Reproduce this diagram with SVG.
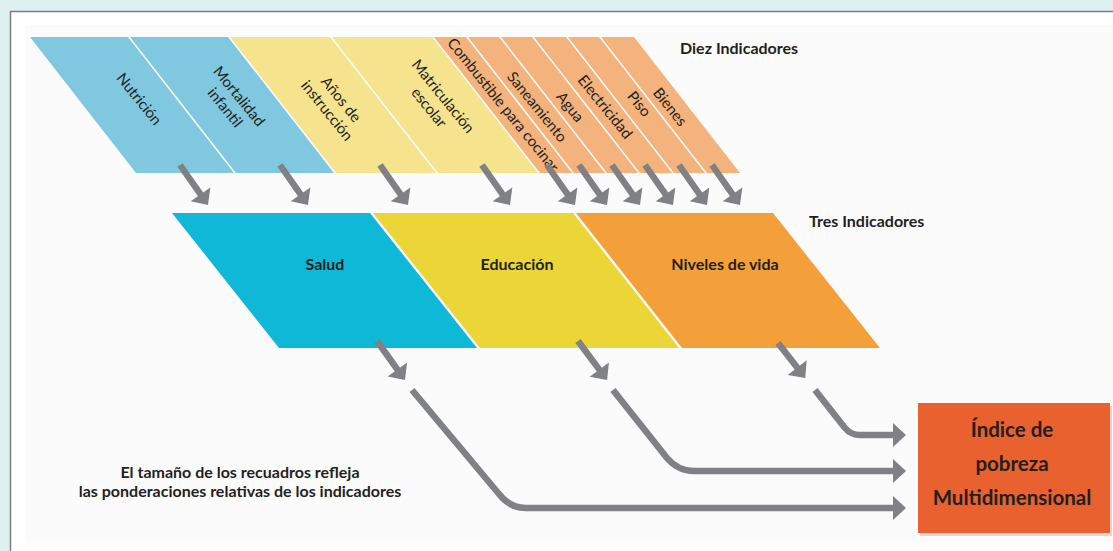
<svg xmlns="http://www.w3.org/2000/svg" width="1113" height="551" viewBox="0 0 1113 551">
  <style>
    .lbl { font-family: Lato, "Open Sans", sans-serif; font-size: 15px; fill: #231F20; text-anchor: middle; }
    .mid { font-family: Lato, "Open Sans", sans-serif; font-size: 16px; font-weight: 700; fill: #231F20; text-anchor: middle; }
    .hdr { font-family: Lato, "Open Sans", sans-serif; font-size: 16px; font-weight: 700; fill: #231F20; }
    .note { font-family: Lato, "Open Sans", sans-serif; font-size: 16px; font-weight: 700; fill: #231F20; text-anchor: middle; }
    .idx { font-family: Lato, "Open Sans", sans-serif; font-size: 20.5px; font-weight: 700; fill: #231F20; text-anchor: middle; }
    .blue { fill: #7FC8DF; }
    .yel { fill: #F5E38E; }
    .org { fill: #F4B27C; }
    .arr { fill: none; stroke: #7F8185; stroke-width: 6.5; stroke-linejoin: round; marker-end: url(#head); }
  </style>
  <defs>
    <marker id="head" markerUnits="userSpaceOnUse" viewBox="-16 -16 20 32" markerWidth="20" markerHeight="32" refX="-8" refY="0" orient="auto">
      <path d="M0,0 L-13,-12 L-13,12 Z" fill="#7F8185"/>
    </marker>
  </defs>

  <!-- frame -->
  <rect x="0" y="0" width="1113" height="551" fill="#DEF0F0"/>
  <rect x="11" y="11" width="1102" height="540" fill="#FFFFFF"/>
  <rect x="25" y="25" width="1088" height="517" fill="#FBFBFB"/>
  <line x1="10" y1="11.5" x2="1113" y2="11.5" stroke="#7A7F80" stroke-width="1.5"/>
  <line x1="10.5" y1="11" x2="10.5" y2="551" stroke="#7A7F80" stroke-width="1.5"/>

  <!-- ten indicators -->
  <g id="nutricion">
    <polygon class="blue" points="30,37 128,37 234,173 136,173"/>
    <text class="lbl" transform="translate(139,99) rotate(51)" y="5">Nutrición</text>
  </g>
  <g id="mortalidad">
    <polygon class="blue" points="130,37 228,37 334,173 236,173"/>
    <text class="lbl" transform="translate(232,102) rotate(51)"><tspan x="0" y="-4">Mortalidad</tspan><tspan x="0" y="14">infantil</tspan></text>
  </g>
  <g id="anos">
    <polygon class="yel" points="230,37 330,37 436,173 336,173"/>
    <text class="lbl" transform="translate(334,105) rotate(51)"><tspan x="0" y="-4">Años de</tspan><tspan x="0" y="14">instrucción</tspan></text>
  </g>
  <g id="matriculacion">
    <polygon class="yel" points="332,37 432,37 538,173 438,173"/>
    <text class="lbl" transform="translate(436,102) rotate(51)"><tspan x="0" y="-4">Matriculación</tspan><tspan x="0" y="14">escolar</tspan></text>
  </g>
  <g id="combustible">
    <polygon class="org" points="434,37 466,37 572,173 540,173"/>
    <text class="lbl" transform="translate(503,105) rotate(51)" y="5">Combustible para cocinar</text>
  </g>
  <g id="saneamiento">
    <polygon class="org" points="468,37 499,37 605,173 574,173"/>
    <text class="lbl" transform="translate(537,107) rotate(51)" y="5">Saneamiento</text>
  </g>
  <g id="agua">
    <polygon class="org" points="501,37 532,37 638,173 607,173"/>
    <text class="lbl" transform="translate(570,107) rotate(51)" y="5">Agua</text>
  </g>
  <g id="electricidad">
    <polygon class="org" points="534,37 566,37 672,173 640,173"/>
    <text class="lbl" transform="translate(605,107) rotate(51)" y="5">Electricidad</text>
  </g>
  <g id="piso">
    <polygon class="org" points="568,37 599,37 705,173 674,173"/>
    <text class="lbl" transform="translate(639,104) rotate(51)" y="5">Piso</text>
  </g>
  <g id="bienes">
    <polygon class="org" points="601,37 634,37 740,173 707,173"/>
    <text class="lbl" transform="translate(670,107) rotate(51)" y="5">Bienes</text>
  </g>
  <text class="hdr" x="680" y="54">Diez Indicadores</text>

  <!-- three indicators -->
  <g id="salud">
    <polygon fill="#10B8D8" points="172,213 370,213 477,348 279,348"/>
    <text class="mid" x="325" y="270">Salud</text>
  </g>
  <g id="educacion">
    <polygon fill="#ECD537" points="373,213 573,213 679,348 480,348"/>
    <text class="mid" x="517" y="270">Educación</text>
  </g>
  <g id="niveles">
    <polygon fill="#F3A03A" points="576,213 773,213 880,348 682,348"/>
    <text class="mid" x="725" y="270">Niveles de vida</text>
  </g>
  <text class="hdr" x="809" y="227">Tres Indicadores</text>

  <!-- index -->
  <g id="indice">
    <rect x="920" y="406" width="192" height="130" fill="#D9D9D9"/>
    <rect x="918" y="403" width="192" height="130" fill="#E8612F"/>
    <text class="idx" x="1012" y="437">Índice de</text>
    <text class="idx" x="1012" y="471">pobreza</text>
    <text class="idx" x="1012" y="505">Multidimensional</text>
  </g>

  <text class="note" x="240" y="478">El tamaño de los recuadros refleja</text>
  <text class="note" x="240" y="497">las ponderaciones relativas de los indicadores</text>

  <!-- connectors -->
  <g id="connectors">
    <line class="arr" x1="180" y1="165" x2="203.4" y2="198.4"/>
    <line class="arr" x1="280" y1="165" x2="303.4" y2="198.4"/>
    <line class="arr" x1="380" y1="165" x2="403.4" y2="198.4"/>
    <line class="arr" x1="482" y1="165" x2="505.4" y2="198.4"/>
    <line class="arr" x1="547" y1="165" x2="570.4" y2="198.4"/>
    <line class="arr" x1="579" y1="165" x2="602.4" y2="198.4"/>
    <line class="arr" x1="612" y1="165" x2="635.4" y2="198.4"/>
    <line class="arr" x1="645" y1="165" x2="668.4" y2="198.4"/>
    <line class="arr" x1="679" y1="165" x2="702.4" y2="198.4"/>
    <line class="arr" x1="712" y1="165" x2="735.4" y2="198.4"/>

    <line class="arr" x1="377" y1="341" x2="400.3" y2="373.6"/>
    <line class="arr" x1="578" y1="341" x2="602.3" y2="373.6"/>
    <line class="arr" x1="778" y1="343" x2="800.3" y2="371.6"/>

    <path class="arr" d="M412,390 L499,494 Q510,508 526,508 L898,508"/>
    <path class="arr" d="M613,390 L667,458 Q678,471 694,471 L898,471"/>
    <path class="arr" d="M815,390 L845,428 Q851,435 860,435 L898,435"/>
  </g>
</svg>
